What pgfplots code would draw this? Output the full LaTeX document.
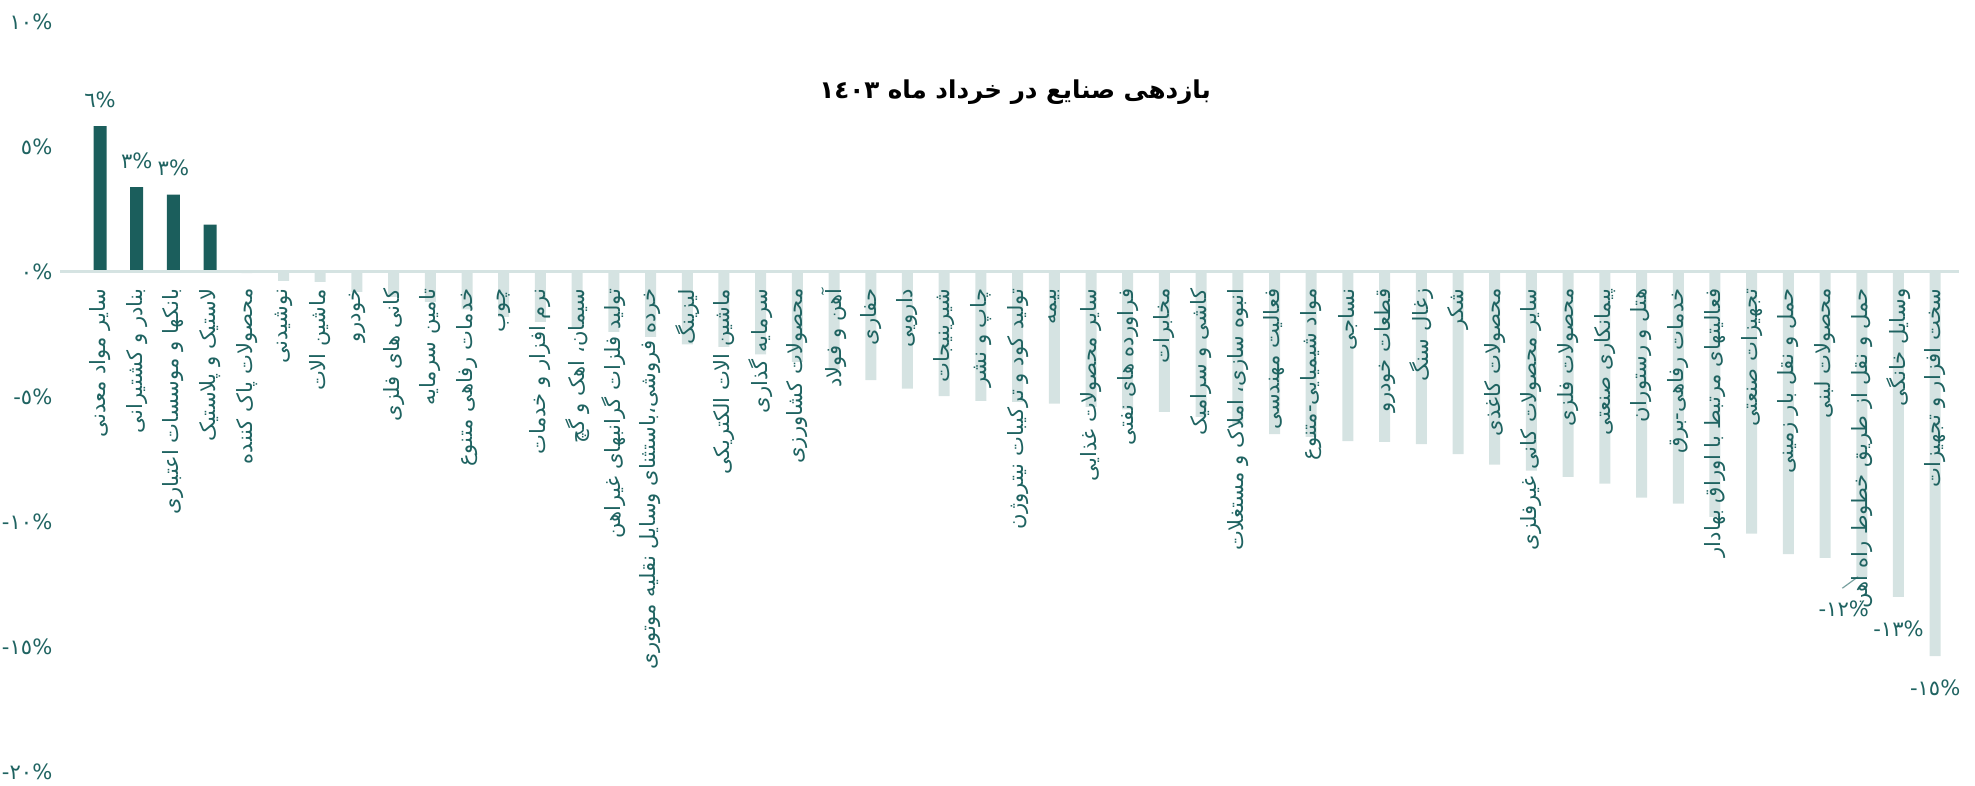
\documentclass[border=0pt]{standalone}
\usepackage{fontspec}
\usepackage{pgfplots}
\pgfplotsset{compat=1.18}
\TeXXeTstate=1
\newfontfamily\fa[Script=Arabic]{DejaVu Sans}
% number, then percent sign, kept left to right
\newcommand\pc[2]{\hbox{#1}\hbox{#2}\hbox{\%}}

\definecolor{darkbar}{RGB}{27,94,92}
\definecolor{lightbar}{RGB}{213,227,226}
\definecolor{txt}{RGB}{31,99,97}

\begin{document}
\begin{tikzpicture}
\path[use as bounding box] (0,0) rectangle (197.5mm,78.6mm);
\begin{axis}[
  at={(6mm,1.4mm)}, anchor=south west,
  width=189.9mm, height=75mm, scale only axis,
  xmin=-1.09, xmax=50.65, ymin=-20, ymax=10,
  axis on top,
  axis x line=middle, axis y line=left,
  x axis line style={-, draw=lightbar, line width=0.3mm},
  y axis line style={draw=none},
  major tick length=0pt,
  hide obscured x ticks=false, hide obscured y ticks=false,
  xtick={0,...,50},
  xticklabels={
    {\beginR سایر مواد معدنی\endR},
    {\beginR بنادر و کشتیرانی\endR},
    {\beginR بانکها و موسسات اعتباری\endR},
    {\beginR لاستیک و پلاستیک\endR},
    {\beginR محصولات پاک کننده\endR},
    {\beginR نوشیدنی\endR},
    {\beginR ماشین الات\endR},
    {\beginR خودرو\endR},
    {\beginR کانی های فلزی\endR},
    {\beginR تامین سرمایه\endR},
    {\beginR خدمات رفاهی متنوع\endR},
    {\beginR چوب\endR},
    {\beginR نرم افزار و خدمات\endR},
    {\beginR سیمان، اهک و گچ\endR},
    {\beginR تولید فلزات گرانبهای غیراهن\endR},
    {\beginR خرده فروشی،باستثنای وسایل نقلیه موتوری\endR},
    {\beginR لیزینگ\endR},
    {\beginR ماشین الات الکتریکی\endR},
    {\beginR سرمایه گذاری\endR},
    {\beginR محصولات کشاورزی\endR},
    {\beginR آهن و فولاد\endR},
    {\beginR حفاری\endR},
    {\beginR دارویی\endR},
    {\beginR شیرینیجات\endR},
    {\beginR چاپ و نشر\endR},
    {\beginR تولید کود و ترکیبات نیتروژن\endR},
    {\beginR بیمه\endR},
    {\beginR سایر محصولات غذایی\endR},
    {\beginR فراورده های نفتی\endR},
    {\beginR مخابرات\endR},
    {\beginR کاشی و سرامیک\endR},
    {\beginR انبوه سازی، املاک و مستغلات\endR},
    {\beginR فعالیت مهندسی\endR},
    {\beginR مواد شیمیایی-متنوع\endR},
    {\beginR نساجی\endR},
    {\beginR قطعات خودرو\endR},
    {\beginR زغال سنگ\endR},
    {\beginR شکر\endR},
    {\beginR محصولات کاغذی\endR},
    {\beginR سایر محصولات کانی غیرفلزی\endR},
    {\beginR محصولات فلزی\endR},
    {\beginR پیمانکاری صنعتی\endR},
    {\beginR هتل و رستوران\endR},
    {\beginR خدمات رفاهی-برق\endR},
    {\beginR فعالیتهای مرتبط با اوراق بهادار\endR},
    {\beginR تجهیزات صنعتی\endR},
    {\beginR حمل و نقل بار زمینی\endR},
    {\beginR محصولات لبنی\endR},
    {\beginR حمل و نقل از طریق خطوط راه اهن\endR},
    {\beginR وسایل خانگی\endR},
    {\beginR سخت افزار و تجهیزات\endR}},
  xticklabel style={font=\fa\fontsize{6}{7}\selectfont, text=txt,
    yshift=-1.6mm, rotate=90, anchor=east, inner sep=0pt},
  ytick={-20,-15,-10,-5,0,5,10},
  yticklabels={\pc{-}{٢٠},\pc{-}{١٥},\pc{-}{١٠},\pc{-}{٥},\pc{}{٠},\pc{}{٥},\pc{}{١٠}},
  yticklabel style={font=\fa\fontsize{6}{7}\selectfont, text=txt,
    anchor=east, inner sep=0pt, xshift=-0.7mm},
  title={\beginR بازدهی صنایع در خرداد ماه ١٤٠٣\endR},
  every axis title shift=0pt,
  title style={font=\fa\bfseries\fontsize{7}{9}\selectfont,
    at={(0.503,0.907)}, anchor=center},
  clip=false,
]
% positive returns
\addplot[ybar, bar width=1.3mm, bar shift=0pt, fill=darkbar, draw=none]
  coordinates {(0,5.83) (1,3.39) (2,3.09) (3,1.89)};
% negative returns
\addplot[ybar, bar width=1.1mm, bar shift=0pt, fill=lightbar, draw=none]
  coordinates {
  (4,-0.05) (5,-0.36) (6,-0.40) (7,-0.8) (8,-1.0) (9,-1.2) (10,-1.5)
  (11,-1.8) (12,-2.0) (13,-2.2) (14,-2.4) (15,-2.6) (16,-2.9) (17,-3.0)
  (18,-3.3) (19,-3.6) (20,-3.9) (21,-4.33) (22,-4.67) (23,-4.97)
  (24,-5.16) (25,-5.2) (26,-5.27) (27,-5.4) (28,-5.5) (29,-5.6)
  (30,-5.8) (31,-6.1) (32,-6.49) (33,-6.6) (34,-6.77) (35,-6.8)
  (36,-6.89) (37,-7.29) (38,-7.71) (39,-7.95) (40,-8.2) (41,-8.47)
  (42,-9.03) (43,-9.27) (44,-9.8) (45,-10.47) (46,-11.29) (47,-11.44)
  (48,-12.2) (49,-13.0) (50,-15.37)};
% value labels
\addplot[draw=none, nodes near coords, point meta=explicit symbolic,
  every node near coord/.style={font=\fa\fontsize{6}{7}\selectfont,
    text=txt, anchor=south, inner sep=0pt, yshift=1.8mm}]
  coordinates {(0,5.83) [\pc{}{٦}] (1,3.39) [\pc{}{٣}] (2,3.09) [\pc{}{٣}]};
\addplot[draw=none, nodes near coords, point meta=explicit symbolic,
  every node near coord/.style={font=\fa\fontsize{6}{7}\selectfont,
    text=txt, anchor=north, inner sep=0pt, yshift=-2.3mm}]
  coordinates {(49,-13.0) [\pc{-}{١٣}] (50,-15.37) [\pc{-}{١٥}]};
\addplot[draw=none, nodes near coords, point meta=explicit symbolic,
  every node near coord/.style={font=\fa\fontsize{6}{7}\selectfont,
    text=txt, anchor=north, inner sep=0pt, xshift=-1.8mm, yshift=-2.3mm}]
  coordinates {(48,-12.2) [\pc{-}{١٢}]};
\addplot[draw=txt!60, line width=0.12mm]
  coordinates {(47.47,-12.65) (47.9,-12.19)};
\end{axis}
\end{tikzpicture}
\end{document}
